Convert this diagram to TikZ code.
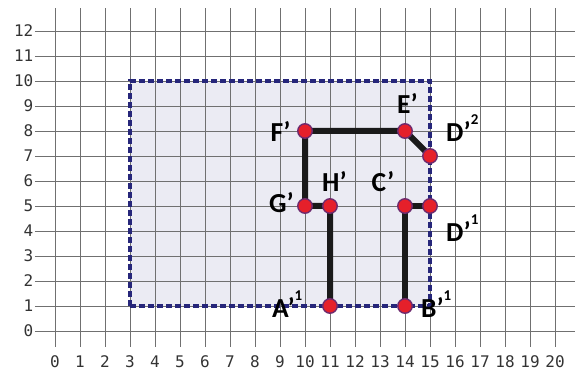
\documentclass[tikz,border=0pt]{standalone}
\usepackage{fontspec}
\newfontfamily\labfont{Carlito}[BoldFont={Carlito Bold}]
\newfontfamily\axfont{DejaVu Sans Mono}
\definecolor{gridc}{HTML}{707070}
\definecolor{regfill}{HTML}{EBEBF3}
\definecolor{regdraw}{HTML}{26267A}
\definecolor{ptfill}{HTML}{E5202A}
\definecolor{ptdraw}{HTML}{6E2A6E}
\definecolor{axtext}{HTML}{333333}
\definecolor{segc}{HTML}{1A1A1A}
\tikzset{
  gridline/.style={draw=gridc, line width=0.9pt},
  region/.style={draw=regdraw, line width=3.2pt, dash pattern=on 6pt off 3pt},
  seg/.style={draw=segc, line width=6pt},
  pt/.style={circle, fill=ptfill, draw=ptdraw, line width=1.4pt, minimum size=14.5pt, inner sep=0pt},
  lab/.style={anchor=base west, inner sep=0pt, font=\labfont\bfseries\fontsize{27.5}{27.5}\selectfont, text=black},
  axlab/.style={inner sep=0pt, font=\axfont\fontsize{16}{16}\selectfont, text=axtext}
}
\newcommand{\supr}[1]{\raisebox{17pt}{\fontsize{15}{15}\selectfont #1}}
\begin{document}
\begin{tikzpicture}[x=25pt,y=25pt]
\useasboundingbox (-2.2,-1.72) rectangle (20.92,13.24);
% region fill
\fill[regfill] (3,1) rectangle (15,10);
% grid
\foreach \i in {0,...,12} \draw[gridline] (-0.8,\i) -- (20.8,\i);
\foreach \i in {0,...,20} \draw[gridline] (\i,-0.64) -- (\i,12.92);
% axis labels
\foreach \i in {0,...,12} \node[axlab, anchor=east] (y\i) at (-0.86,\i) {\i};
\foreach \i in {0,...,20} \node[axlab, anchor=base] (x\i) at (\i,-1.48) {\i};
% region border
\draw[region] (3,1) rectangle (15,10);
% points
\coordinate (A) at (11,1);
\coordinate (B) at (14,1);
\coordinate (H) at (11,5);
\coordinate (G) at (10,5);
\coordinate (C) at (14,5);
\coordinate (D1) at (15,5);
\coordinate (F) at (10,8);
\coordinate (E) at (14,8);
\coordinate (D2) at (15,7);
\draw[seg, line join=miter] (A) -- (H) -- (G) -- (F) -- (E) -- (D2);
\draw[seg, line join=miter] (B) -- (C) -- (D1);
\foreach \p in {A,B,H,G,C,D1,F,E,D2} \node[pt] (n\p) at (\p) {};
% labels
\node[lab] (lF) at (8.62,7.56) {F’};
\node[lab] (lG) at (8.56,4.72) {G’};
\node[lab] (lH) at (10.68,5.58) {H’};
\node[lab] (lC) at (12.66,5.58) {C’};
\node[lab] (lE) at (13.68,8.68) {E’};
\node[lab] (lD2) at (15.64,7.56) {D’\supr{2}};
\node[lab] (lD1) at (15.64,3.56) {D’\supr{1}};
\node[lab] (lA) at (8.68,0.52) {A’\supr{1}};
\node[lab] (lB) at (14.64,0.52) {B’\supr{1}};
\end{tikzpicture}
\end{document}
